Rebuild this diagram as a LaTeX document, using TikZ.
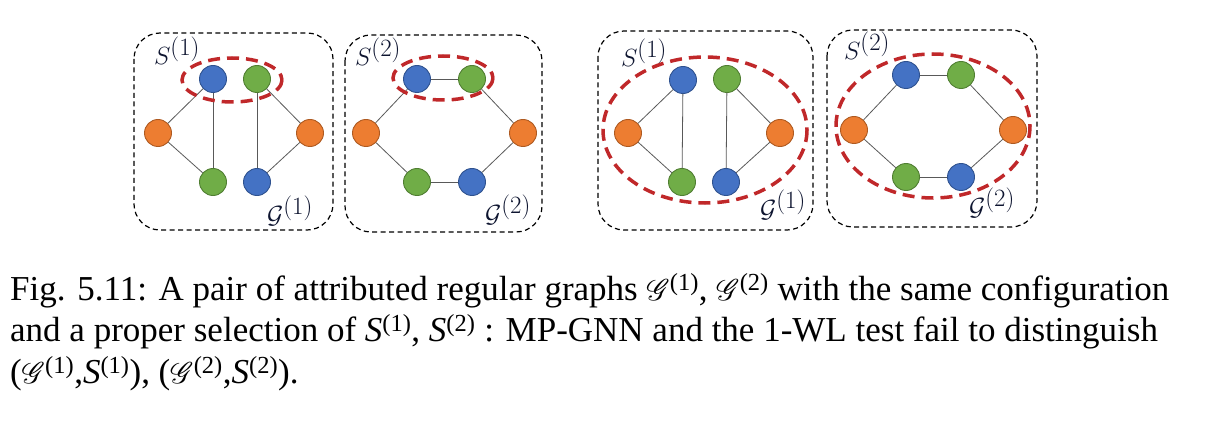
\documentclass[tikz,border=0pt]{standalone}
\usepackage{fontspec}
\setmainfont{Liberation Serif}
\usepackage{mathrsfs}
\usepackage{graphicx}
\definecolor{nblue}{HTML}{4472C4}
\definecolor{nblueD}{HTML}{2F528F}
\definecolor{ngreen}{HTML}{70AD47}
\definecolor{ngreenD}{HTML}{507E32}
\definecolor{norange}{HTML}{ED7D31}
\definecolor{norangeD}{HTML}{AE5A21}
\definecolor{selred}{HTML}{C0282A}
\definecolor{lblcol}{HTML}{0E1530}
\newcommand\capS[1]{\textit{S}\textsuperscript{(#1)}}
\newcommand\capG[1]{\scalebox{1.2}{$\mathscr{G}$}\textsuperscript{(#1)}}
\tikzset{
  vtx/.style={circle, line width=0.9pt, minimum size=27pt, inner sep=0pt},
  bn/.style={vtx, fill=nblue, draw=nblueD},
  gn/.style={vtx, fill=ngreen, draw=ngreenD},
  on/.style={vtx, fill=norange, draw=norangeD},
  edge/.style={draw=black!65, line width=0.8pt},
  panel/.style={draw=black, line width=1.2pt, dash pattern=on 5pt off 3.5pt, rounded corners=26pt},
  sel/.style={draw=selred, line width=3.5pt, dash pattern=on 12pt off 7pt},
  lbl/.style={text=lblcol, inner sep=0pt, font=\fontsize{33}{38}\selectfont},
  captxt/.style={anchor=base west, inner sep=0pt, font=\fontsize{35}{40}\selectfont}
}
\begin{document}
\begin{tikzpicture}[x=1pt,y=-1pt]
\useasboundingbox (0,0) rectangle (1220,422);
% panels
\draw[panel] (134,33) rectangle (333,230);
\draw[panel] (345,35) rectangle (542,232);
\draw[panel] (598,31) rectangle (813,230);
\draw[panel] (827,30) rectangle (1037,227);
% panel 1
\node[bn] (p1bt) at (213,79) {};
\node[gn] (p1gt) at (257,79) {};
\node[on] (p1ol) at (158,133) {};
\node[on] (p1or) at (310,133) {};
\node[gn] (p1gb) at (213,182) {};
\node[bn] (p1bb) at (257,182) {};
\draw[edge] (p1bt) -- (p1ol);
\draw[edge] (p1bt) -- (p1gb);
\draw[edge] (p1ol) -- (p1gb);
\draw[edge] (p1gt) -- (p1or);
\draw[edge] (p1gt) -- (p1bb);
\draw[edge] (p1or) -- (p1bb);
\coordinate (e1) at (232,80);
\draw[sel] (e1) ellipse [x radius=50, y radius=22];
\node[lbl] (s1) at (177,51) {$S^{(1)}$};
\node[lbl] (g1) at (290,211) {$\mathcal{G}^{(1)}$};
% panel 2
\node[bn] (p2bt) at (417,79) {};
\node[gn] (p2gt) at (472,79) {};
\node[on] (p2ol) at (366,133) {};
\node[on] (p2or) at (523,133) {};
\node[gn] (p2gb) at (417,182) {};
\node[bn] (p2bb) at (472,182) {};
\draw[edge] (p2bt) -- (p2gt);
\draw[edge] (p2gt) -- (p2or);
\draw[edge] (p2or) -- (p2bb);
\draw[edge] (p2bb) -- (p2gb);
\draw[edge] (p2gb) -- (p2ol);
\draw[edge] (p2ol) -- (p2bt);
\coordinate (e2) at (443,78);
\draw[sel] (e2) ellipse [x radius=50, y radius=22];
\node[lbl] (s2) at (378,52) {$S^{(2)}$};
\node[lbl] (g2) at (508,210) {$\mathcal{G}^{(2)}$};
% panel 3
\node[bn] (p3bt) at (683,80) {};
\node[gn] (p3gt) at (727,79) {};
\node[on] (p3ol) at (628,133) {};
\node[on] (p3or) at (780,133) {};
\node[gn] (p3gb) at (682,182) {};
\node[bn] (p3bb) at (726,182) {};
\draw[edge] (p3bt) -- (p3ol);
\draw[edge] (p3bt) -- (p3gb);
\draw[edge] (p3ol) -- (p3gb);
\draw[edge] (p3gt) -- (p3or);
\draw[edge] (p3gt) -- (p3bb);
\draw[edge] (p3or) -- (p3bb);
\coordinate (e3) at (705,130);
\draw[sel] (e3) ellipse [x radius=102, y radius=73];
\node[lbl] (s3) at (644,53) {$S^{(1)}$};
\node[lbl] (g3) at (783,205) {$\mathcal{G}^{(1)}$};
% panel 4
\node[bn] (p4bt) at (906,75) {};
\node[gn] (p4gt) at (961,75) {};
\node[on] (p4ol) at (854,130) {};
\node[on] (p4or) at (1013,130) {};
\node[gn] (p4gb) at (906,177) {};
\node[bn] (p4bb) at (961,177) {};
\draw[edge] (p4bt) -- (p4gt);
\draw[edge] (p4gt) -- (p4or);
\draw[edge] (p4or) -- (p4bb);
\draw[edge] (p4bb) -- (p4gb);
\draw[edge] (p4gb) -- (p4ol);
\draw[edge] (p4ol) -- (p4bt);
\coordinate (e4) at (933,126);
\draw[sel] (e4) ellipse [x radius=97, y radius=72];
\node[lbl] (s4) at (867,46) {$S^{(2)}$};
\node[lbl] (g4) at (992,203) {$\mathcal{G}^{(2)}$};
% caption
\node[captxt] (c1) at (10,300) {Fig. 5.11: A pair of attributed regular graphs \capG{1}, \capG{2} with the same configuration};
\node[captxt] (c2) at (10,341) {and a proper selection of \capS{1}, \capS{2} : MP-GNN and the 1-WL test fail to distinguish};
\node[captxt] (c3) at (10,383) {(\capG{1},\capS{1}), (\capG{2},\capS{2}).};
\end{tikzpicture}
\end{document}
